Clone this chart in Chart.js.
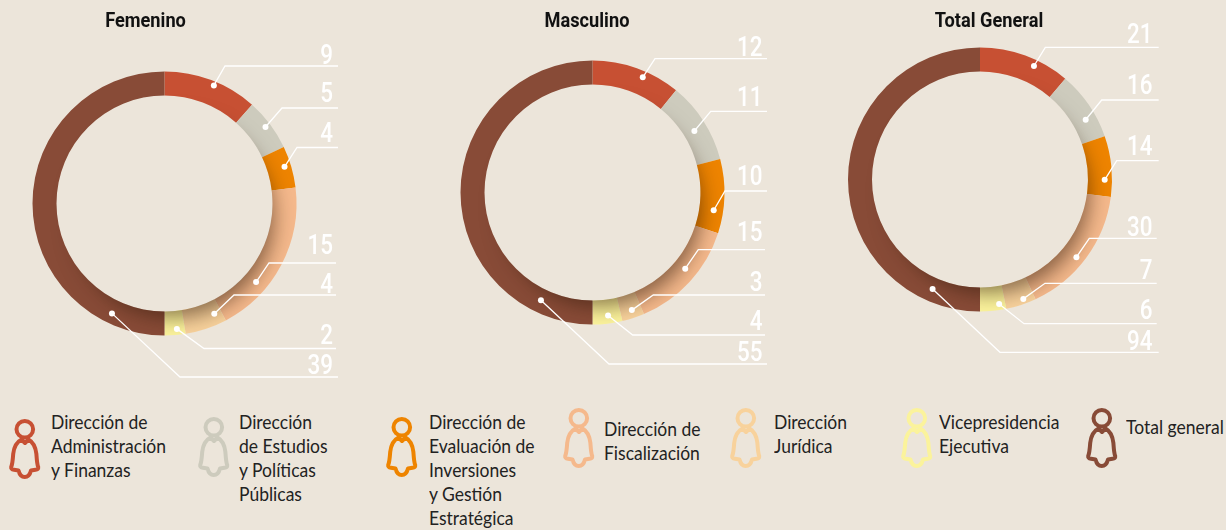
<!DOCTYPE html>
<html lang="es">
<head>
<meta charset="utf-8">
<title>Femenino, Masculino, Total General</title>
<script src="https://cdn.jsdelivr.net/npm/chart.js@4"></script>
<style>
  html, body { margin: 0; padding: 0; background: #ece5da; }
  #page { position: relative; width: 1226px; height: 530px; overflow: hidden; background: #ece5da; }
  canvas { position: absolute; top: 0; }
  .icon { position: absolute; overflow: visible; }
  .lbl { position: absolute; font: 20px/24px Lato, "Liberation Sans", sans-serif; color: #222; white-space: nowrap;
         transform: scaleX(0.875); transform-origin: 0 0; }
</style>
</head>
<body>
<div id="page">
  <canvas id="chartF" width="400" height="400" style="left:0"></canvas>
  <canvas id="chartM" width="400" height="400" style="left:400px"></canvas>
  <canvas id="chartT" width="426" height="400" style="left:800px"></canvas>
</div>
<script>
// data
var categories = ['Dirección de Administración y Finanzas', 'Dirección de Estudios y Políticas Públicas',
  'Dirección de Evaluación de Inversiones y Gestión Estratégica', 'Dirección de Fiscalización',
  'Dirección Jurídica', 'Vicepresidencia Ejecutiva', 'Total general'];
var femenino = [9, 5, 4, 15, 4, 2, 39];
var masculino = [12, 11, 10, 15, 3, 4, 55];
var totalGeneral = [21, 16, 14, 30, 7, 6, 94];
var colors = ['#c75033', '#cdcbbd', '#ee8400', '#f5b98c', '#f8d29c', '#fbf39c', '#884b37'];

var legendLines = [
  ['Dirección de', 'Administración', 'y Finanzas'],
  ['Dirección', 'de Estudios', 'y Políticas', 'Públicas'],
  ['Dirección de', 'Evaluación de', 'Inversiones', 'y Gestión', 'Estratégica'],
  ['Dirección de', 'Fiscalización'],
  ['Dirección', 'Jurídica'],
  ['Vicepresidencia', 'Ejecutiva'],
  ['Total general']
];

// layout of the three rings and their leader lines
var OUTER = 132, INNER = 108;
var layouts = [
  { id: 'chartF', left: 0, title: 'Femenino', titleX: 145.5, titleY: 27, cx: 164.5, cy: 203.5, values: femenino,
    dotT: [.546, .49, .455, .687, .184, .39, .142], dotR: [128, 126.7, 125.5, 120.7, 121, 126, 121.8],
    elbowX: [225, 282, 297, 269, 234, 204, 180], lineY: [66, 108, 147.5, 263, 295, 348.5, 377],
    lineEnd: [338, 338, 338, 336, 336, 336, 338], labelY: [64, 101.6, 141.7, 254, 292.7, 344, 374], labelX: 333 },
  { id: 'chartM', left: 400, title: 'Masculino', titleX: 587, titleY: 27, cx: 592.5, cy: 192.5, values: masculino,
    dotT: [.6, .545, .705, .436, .45, .45, .142], dotR: [125.7, 119, 122.5, 120, 124, 124, 119.5],
    elbowX: [655, 710.7, 725, 698.3, 653.3, 632.7, 609], lineY: [58.7, 111.3, 191, 249.7, 295, 335, 364],
    lineEnd: [767, 767, 767, 765, 765, 765, 767], labelY: [56, 106, 185, 240.7, 290.7, 330, 360.7], labelX: 762.5 },
  { id: 'chartT', left: 800, title: 'Total General', titleX: 989, titleY: 27, cx: 980, cy: 179.5, values: totalGeneral,
    dotT: [.632, .663, .72, .543, .37, .24, .13], dotR: [125.7, 121.4, 124.7, 123.8, 127, 126, 119.4],
    elbowX: [1045.3, 1101.7, 1116.7, 1089.3, 1045, 1024, 1000], lineY: [47.3, 100, 160.7, 238.3, 283.3, 323.7, 352.3],
    lineEnd: [1158.7, 1158.7, 1158.7, 1156.7, 1156.7, 1156.7, 1158.7], labelY: [42.7, 94, 155, 235.7, 279, 319.3, 350], labelX: 1152.5 }
];

function squeezedText(c, text, x, y, sx) {
  c.save();
  c.translate(x, y);
  c.scale(sx, 1);
  c.fillText(text, 0, 0);
  c.restore();
}

// soft shadow of the hole falling on the ring, then lines, dots and numbers
var ringOverlay = {
  id: 'ringOverlay',
  afterDatasetsDraw: function (chart, args, opts) {
    var c = chart.ctx, l = opts.layout;
    var arcs = chart.getDatasetMeta(0).data;
    var x0 = arcs[0].x, y0 = arcs[0].y;

    c.save();
    c.beginPath();
    c.arc(x0, y0, OUTER, 0, Math.PI * 2);
    c.arc(x0, y0, INNER, 0, Math.PI * 2, true);
    c.clip();
    c.shadowColor = 'rgba(50,25,10,0.55)';
    c.shadowBlur = 20;
    c.shadowOffsetX = 9;
    c.shadowOffsetY = 14;
    c.fillStyle = '#000';
    c.beginPath();
    c.arc(x0, y0, INNER - 8, 0, Math.PI * 2);
    c.fill();
    c.restore();

    c.save();
    c.strokeStyle = '#fff';
    c.fillStyle = '#fff';
    c.lineWidth = 1.3;
    c.textAlign = 'right';
    c.textBaseline = 'alphabetic';
    c.font = '500 27px Roboto, "Liberation Sans", sans-serif';
    arcs.forEach(function (arc, i) {
      var a = arc.startAngle + (arc.endAngle - arc.startAngle) * l.dotT[i];
      var dx = x0 + Math.cos(a) * l.dotR[i], dy = y0 + Math.sin(a) * l.dotR[i];
      c.beginPath();
      c.moveTo(dx, dy);
      c.lineTo(l.elbowX[i] - l.left, l.lineY[i]);
      c.lineTo(l.lineEnd[i] - l.left, l.lineY[i]);
      c.stroke();
      c.beginPath();
      c.arc(dx, dy, 3, 0, Math.PI * 2);
      c.fill();
      squeezedText(c, String(l.values[i]), l.labelX - l.left, l.labelY[i], 0.83);
    });
    c.fillStyle = '#111';
    c.textAlign = 'center';
    c.font = 'bold 20px Roboto, "Liberation Sans", sans-serif';
    squeezedText(c, l.title, l.titleX - l.left, l.titleY, 0.91);
    c.restore();
  }
};

layouts.forEach(function (l) {
  var canvas = document.getElementById(l.id);
  new Chart(canvas, {
    type: 'doughnut',
    data: {
      labels: categories,
      datasets: [{ data: l.values, backgroundColor: colors, borderWidth: 0 }]
    },
    options: {
      responsive: false,
      animation: false,
      devicePixelRatio: 1,
      cutout: INNER,
      radius: OUTER,
      layout: {
        padding: {
          left: l.cx - l.left - OUTER,
          right: canvas.width - (l.cx - l.left) - OUTER,
          top: l.cy - OUTER,
          bottom: canvas.height - l.cy - OUTER
        }
      },
      plugins: { legend: { display: false }, tooltip: { enabled: false }, ringOverlay: { layout: l } }
    },
    plugins: [ringOverlay]
  });
});

// legend: person outline and its text
var iconX = [9, 198, 386, 563, 730, 901, 1086];
var iconY = [419, 417, 417, 408, 408, 408, 408];
var textX = [51, 239, 429, 604, 774, 939, 1126];
var textY = [409, 409, 409, 416, 409, 409, 414];
var page = document.getElementById('page');
legendLines.forEach(function (lines, i) {
  var svg = '<svg class="icon" width="32" height="60" viewBox="0 0 32 60" style="left:' + iconX[i] + 'px;top:' + iconY[i] + 'px">' +
    '<g fill="none" stroke="' + colors[i] + '" stroke-width="4" stroke-linejoin="round">' +
    '<circle cx="15.8" cy="10.3" r="8.3"/>' +
    '<path d="M16 24 L12.5 20.5 C7.5 23 5 28 4.2 35 C3.8 41 3.5 45 2.2 48 C2 50 3 50.5 5 50.8 L9.5 51.5 C10.5 55.5 13 58 15.7 58 C18.5 58 21 55.5 22 51.5 L26.5 50.8 C28.5 50.5 29.5 50 29.2 48 C28 45 27.8 41 27.4 35 C26.6 28 24 23 19.5 20.5 Z"/>' +
    '</g></svg>';
  page.insertAdjacentHTML('beforeend', svg);
  var d = document.createElement('div');
  d.className = 'lbl';
  d.style.left = textX[i] + 'px';
  d.style.top = textY[i] + 'px';
  d.innerHTML = lines.join('<br>');
  page.appendChild(d);
});
</script>
</body>
</html>
